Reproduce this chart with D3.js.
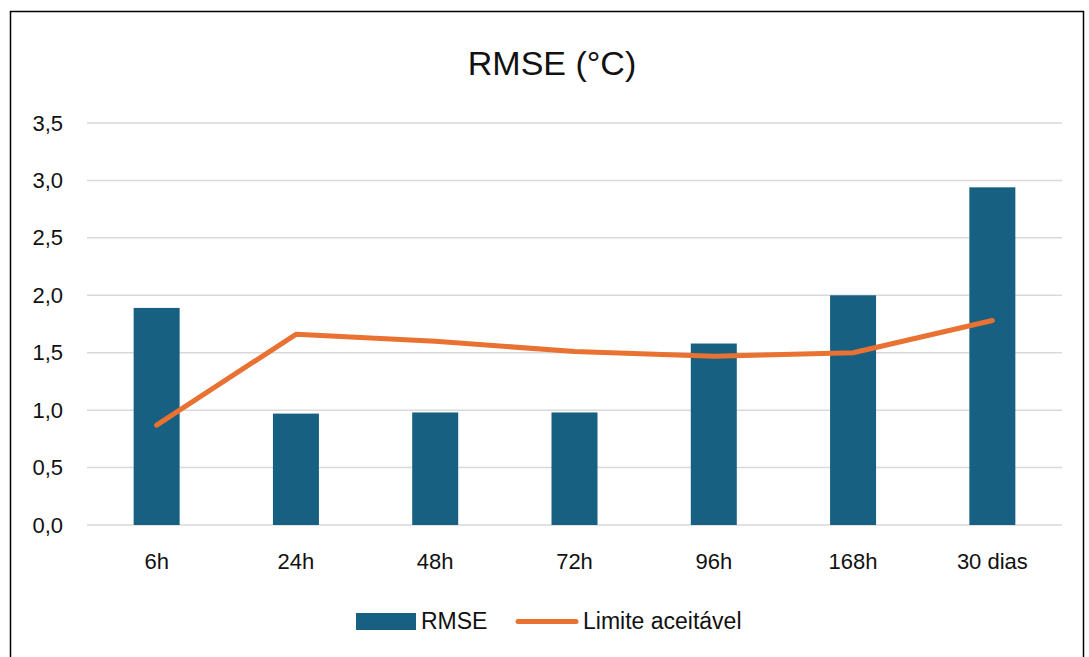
<!DOCTYPE html>
<html>
<head>
<meta charset="utf-8">
<script src="https://cdn.jsdelivr.net/npm/d3@7"></script>
<style>
  body { margin: 0; background: #fff; }
  text { font-family: "Liberation Sans", Arial, sans-serif; }
</style>
</head>
<body>
<div id="chart"></div>
<script>
var categories = ["6h", "24h", "48h", "72h", "96h", "168h", "30 dias"];
var rmse = [1.89, 0.97, 0.98, 0.98, 1.58, 2.00, 2.94];
var limite = [0.87, 1.66, 1.60, 1.51, 1.47, 1.50, 1.78];
var yTicks = [0, 0.5, 1, 1.5, 2, 2.5, 3, 3.5];

var width = 1089,
    height = 657;

var svg = d3.select("#chart").append("svg")
    .attr("width", width)
    .attr("height", height);

svg.append("rect")
    .attr("x", 10.5).attr("y", 11.5)
    .attr("width", 1073).attr("height", 660)
    .attr("fill", "#fff")
    .attr("stroke", "#000")
    .attr("stroke-width", 1.5);

var plotLeft = 87, plotRight = 1062, plotTop = 123, plotBottom = 525;

var x = d3.scaleBand().domain(categories).range([plotLeft, plotRight]).paddingInner(0).paddingOuter(0);
var y = d3.scaleLinear().domain([0, 3.5]).range([plotBottom, plotTop]);

// title
svg.append("text")
    .attr("x", 552).attr("y", 75)
    .attr("text-anchor", "middle")
    .attr("font-size", 34)
    .attr("fill", "#111")
    .text("RMSE (°C)");

// gridlines
svg.append("g").selectAll("line")
    .data(yTicks)
    .enter().append("line")
    .attr("x1", plotLeft).attr("x2", plotRight)
    .attr("y1", function(d) { return y(d); })
    .attr("y2", function(d) { return y(d); })
    .attr("stroke", "#d9d9d9")
    .attr("stroke-width", 1.5);

// y axis labels
var fmt = function(d) { return d3.format(".1f")(d).replace(".", ","); };
var yAxis = svg.append("g")
    .attr("transform", "translate(" + plotLeft + ",0)")
    .call(d3.axisLeft(y).tickValues(yTicks).tickFormat(fmt).tickSize(0).tickPadding(24));
yAxis.select(".domain").remove();
yAxis.selectAll("text").attr("font-size", 22).attr("fill", "#111")
    .attr("font-family", "Liberation Sans, Arial, sans-serif");

// x axis labels
var xAxis = svg.append("g")
    .attr("transform", "translate(0," + plotBottom + ")")
    .call(d3.axisBottom(x).tickSize(0).tickPadding(28));
xAxis.select(".domain").remove();
xAxis.selectAll("text").attr("font-size", 22).attr("fill", "#111")
    .attr("font-family", "Liberation Sans, Arial, sans-serif");

// bars
var barW = 46;
svg.append("g").selectAll("rect")
    .data(rmse)
    .enter().append("rect")
    .attr("x", function(d, i) { return x(categories[i]) + x.bandwidth() / 2 - barW / 2; })
    .attr("y", function(d) { return y(d); })
    .attr("width", barW)
    .attr("height", function(d) { return y(0) - y(d); })
    .attr("fill", "#176082");

// line
var line = d3.line()
    .x(function(d, i) { return x(categories[i]) + x.bandwidth() / 2; })
    .y(function(d) { return y(d); });

svg.append("path")
    .datum(limite)
    .attr("d", line)
    .attr("fill", "none")
    .attr("stroke", "#e97132")
    .attr("stroke-width", 5)
    .attr("stroke-linecap", "round")
    .attr("stroke-linejoin", "round");

// legend
var lg = svg.append("g");
lg.append("rect")
    .attr("x", 356).attr("y", 613)
    .attr("width", 60).attr("height", 17)
    .attr("fill", "#176082");
lg.append("text")
    .attr("x", 421).attr("y", 629)
    .attr("font-size", 23).attr("fill", "#111")
    .text("RMSE");
lg.append("line")
    .attr("x1", 518).attr("x2", 576)
    .attr("y1", 621.5).attr("y2", 621.5)
    .attr("stroke", "#e97132")
    .attr("stroke-width", 5)
    .attr("stroke-linecap", "round");
lg.append("text")
    .attr("x", 583).attr("y", 629)
    .attr("font-size", 23).attr("fill", "#111")
    .text("Limite aceitável");
</script>
</body>
</html>
